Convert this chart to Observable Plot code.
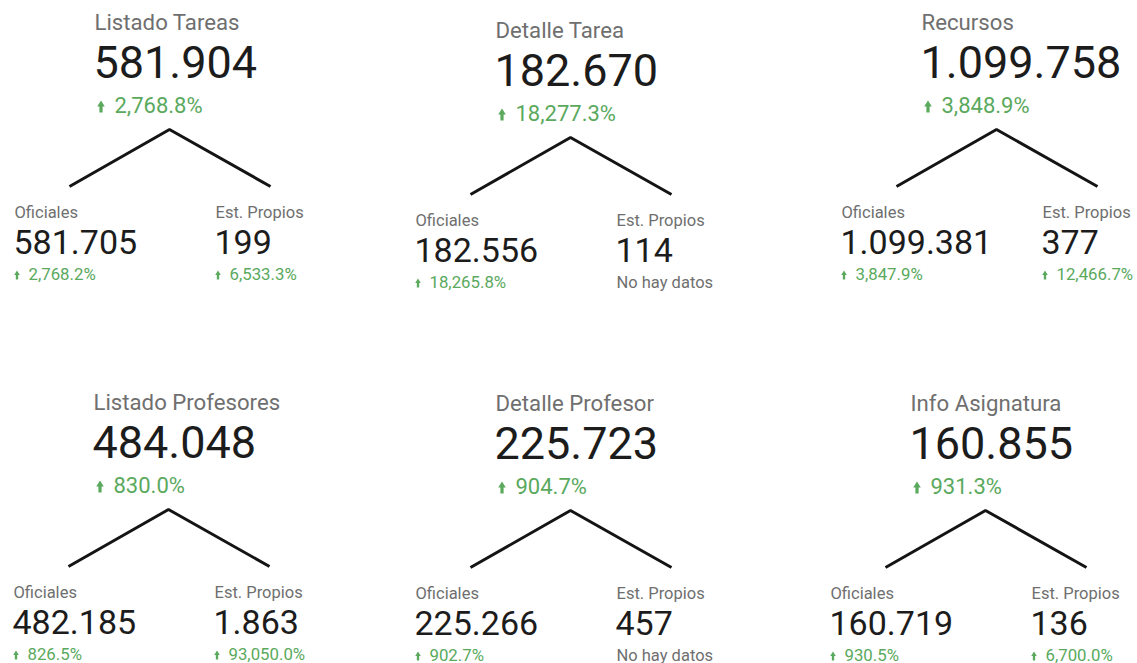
<!DOCTYPE html>
<html>
<head>
<meta charset="utf-8">
<script src="https://cdn.jsdelivr.net/npm/d3@7"></script>
<script src="https://cdn.jsdelivr.net/npm/@observablehq/plot@0.6"></script>
<style>
  html, body { margin: 0; padding: 0; background: #ffffff; }
  #chart { width: 1137px; height: 663px; overflow: hidden; }
</style>
</head>
<body>
<div id="chart"></div>
<script>
// ---- data ----
const panelNames = ["Listado Tareas", "Detalle Tarea", "Recursos", "Listado Profesores", "Detalle Profesor", "Info Asignatura"];
const totals = [581904, 182670, 1099758, 484048, 225723, 160855];
const totalPct = [2768.8, 18277.3, 3848.9, 830.0, 904.7, 931.3];
const childLabels = ["Oficiales", "Est. Propios"];
const oficiales = [581705, 182556, 1099381, 482185, 225266, 160719];
const oficialesPct = [2768.2, 18265.8, 3847.9, 826.5, 902.7, 930.5];
const propios = [199, 114, 377, 1863, 457, 136];
const propiosPct = [6533.3, null, 12466.7, 93050.0, null, 6700.0];
const noDataText = "No hay datos";

// ---- layout (separate from data) ----
const W = 1137, H = 663;
const anchors = [[94, 29], [495, 37], [921, 29], [93, 409], [495, 410], [910, 410]];
const childDx = [-80, 121];
const GREEN = "#5aa95d", GRAY = "#6f6f6f", INK = "#1c1c1c";

const loc = d3.formatLocale({decimal: ",", thousands: ".", grouping: [3], currency: ["", ""]});
const fmtInt = loc.format(",d");
const fmtPct = v => d3.format(",.1f")(v) + "%";

const rows = panelNames.map((name, i) => ({
  i, name, total: totals[i], pct: totalPct[i], ax: anchors[i][0], ay: anchors[i][1]
}));

const children = [];
rows.forEach(r => {
  [[oficiales, oficialesPct], [propios, propiosPct]].forEach(([vals, pcts], k) => {
    children.push({panel: r.i, k, label: childLabels[k], value: vals[r.i], pct: pcts[r.i],
      cx: r.ax + childDx[k], ay: r.ay});
  });
});

const treeLines = [];
rows.forEach(r => {
  treeLines.push({panel: r.i, x: r.ax - 25, y: r.ay + 157});
  treeLines.push({panel: r.i, x: r.ax + 75, y: r.ay + 100});
  treeLines.push({panel: r.i, x: r.ax + 176, y: r.ay + 157});
});

const arrowShape = {
  draw(ctx, l, r) {
    const hw = r, sw = r * 0.42, hl = l * 0.5;
    ctx.moveTo(-sw, 0);
    ctx.lineTo(-sw, -l + hl);
    ctx.lineTo(-hw, -l + hl);
    ctx.lineTo(0, -l);
    ctx.lineTo(hw, -l + hl);
    ctx.lineTo(sw, -l + hl);
    ctx.lineTo(sw, 0);
    ctx.closePath();
  }
};

const withPct = children.filter(d => d.pct != null);
const noPct = children.filter(d => d.pct == null);

const base = {textAnchor: "start", lineAnchor: "bottom"};

const chart = Plot.plot({
  width: W, height: H,
  margin: 0,
  x: {domain: [0, W], range: [0, W], axis: null},
  y: {domain: [0, H], range: [0, H], axis: null},
  style: {fontFamily: "Roboto, sans-serif", background: "#ffffff", overflow: "visible"},
  marks: [
    Plot.line(treeLines, {x: "x", y: "y", z: "panel", stroke: "#141414", strokeWidth: 3, strokeLinejoin: "miter", strokeLinecap: "butt"}),
    Plot.text(rows, {...base, x: d => d.ax, y: d => d.ay, text: "name", fontSize: 22.2, fill: GRAY}),
    Plot.text(rows, {...base, x: d => d.ax - 1, y: d => d.ay + 48, text: d => fmtInt(d.total), fontSize: 45, fill: INK}),
    Plot.vector(rows, {x: d => d.ax + 6.5, y: d => d.ay + 83, length: 12, rotate: 0, r: 3.8, anchor: "start", shape: arrowShape, fill: GREEN, stroke: "none"}),
    Plot.text(rows, {...base, x: d => d.ax + 20, y: d => d.ay + 83, text: d => fmtPct(d.pct), fontSize: 22, fill: GREEN}),
    Plot.text(children, {...base, x: "cx", y: d => d.ay + 188, text: "label", fontSize: 16.5, fill: GRAY}),
    Plot.text(children, {...base, x: d => d.cx - 1, y: d => d.ay + 224, text: d => fmtInt(d.value), fontSize: 34, fill: INK}),
    Plot.vector(withPct, {x: d => d.cx + 2.5, y: d => d.ay + 250, length: 9, rotate: 0, r: 2.8, anchor: "start", shape: arrowShape, fill: GREEN, stroke: "none"}),
    Plot.text(withPct, {...base, x: d => d.cx + 14, y: d => d.ay + 250, text: d => fmtPct(d.pct), fontSize: 16.8, fill: GREEN}),
    Plot.text(noPct, {...base, x: "cx", y: d => d.ay + 250, text: () => noDataText, fontSize: 16.5, fill: GRAY})
  ]
});
document.getElementById("chart").append(chart);
</script>
</body>
</html>
